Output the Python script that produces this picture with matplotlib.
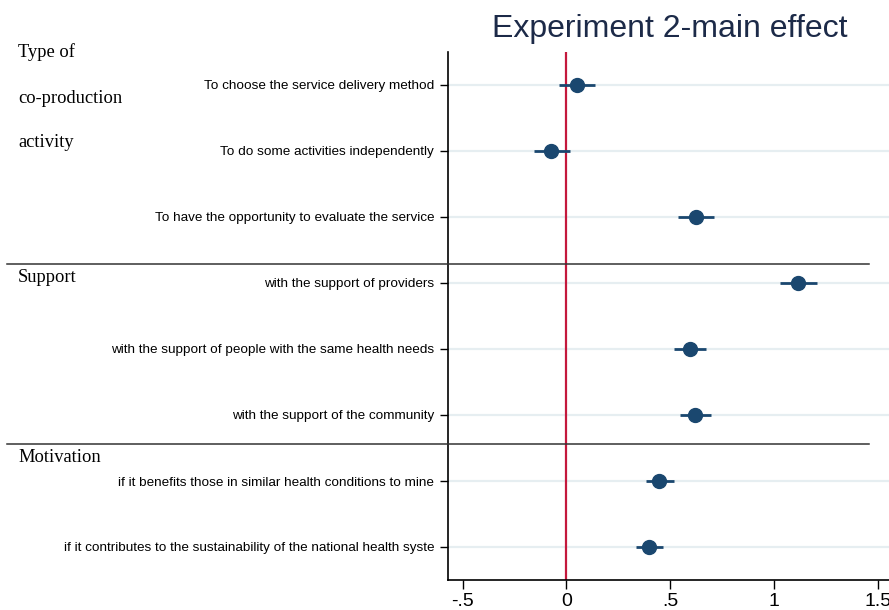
import matplotlib
matplotlib.use("Agg")
import matplotlib.pyplot as plt
from matplotlib.lines import Line2D

# coefficients and 95% CIs
labels = [
    "To choose the service delivery method",
    "To do some activities independently",
    "To have the opportunity to evaluate the service",
    "with the support of providers",
    "with the support of people with the same health needs",
    "with the support of the community",
    "if it benefits those in similar health conditions to mine",
    "if it contributes to the sustainability of the national health syste",
]
coef = [0.053, -0.072, 0.623, 1.116, 0.594, 0.618, 0.449, 0.400]
lo = [-0.034, -0.155, 0.536, 1.030, 0.517, 0.546, 0.382, 0.338]
hi = [0.140, 0.020, 0.710, 1.210, 0.672, 0.696, 0.517, 0.464]
xticks = [-0.5, 0, 0.5, 1, 1.5]
xticklabels = ["-.5", "0", ".5", "1", "1.5"]

navy = "#1a476f"
W, H = 889, 610
fig = plt.figure(figsize=(W / 100, H / 100), dpi=100)
ax = fig.add_axes([448 / W, 1 - 580 / H, 1 - 448 / W, (580 - 52) / H])

ypos = list(range(1, len(labels) + 1))
for y in ypos:
    ax.axhline(y, color="#e6eef1", lw=1.6, zorder=0)
ax.axvline(0, color="#c4183c", lw=1.6, zorder=1)
for y, c, a, b in zip(ypos, coef, lo, hi):
    ax.plot([a, b], [y, y], color=navy, lw=2, zorder=2, solid_capstyle="butt")
ax.plot(coef, ypos, "o", color=navy, ms=10, zorder=3)

ax.set_xlim(-0.57, 1.555)
ax.set_ylim(len(labels) + 0.5, 0.5)
ax.set_yticks(ypos)
ax.set_yticklabels(labels, fontsize=9.7, family="Liberation Sans")
ax.set_xticks(xticks)
ax.set_xticklabels(xticklabels, fontsize=14, family="Liberation Sans")
ax.tick_params(axis="y", length=6, width=1, pad=4)
ax.tick_params(axis="x", length=6.5, width=1, pad=2.5)
for s in ["top", "right"]:
    ax.spines[s].set_visible(False)
ax.spines["left"].set_linewidth(1.2)
ax.spines["bottom"].set_linewidth(1.2)

fig.text(670 / W, 1 - 37 / H, "Experiment 2-main effect", ha="center", va="baseline",
         fontsize=23, color="#1c2a48", family="Liberation Sans")

serif = dict(fontsize=13.3, family="Liberation Serif", va="baseline", ha="left")
for txt, yb in [("Type of", 57), ("co-production", 103), ("activity", 147),
                ("Support", 282), ("Motivation", 462)]:
    fig.text(18 / W, 1 - yb / H, txt, **serif)

for yy in [264, 444]:
    fig.add_artist(Line2D([7 / W, 869 / W], [1 - yy / H, 1 - yy / H],
                          color="#333333", lw=1.1))

fig.savefig("out.png", dpi=100)
